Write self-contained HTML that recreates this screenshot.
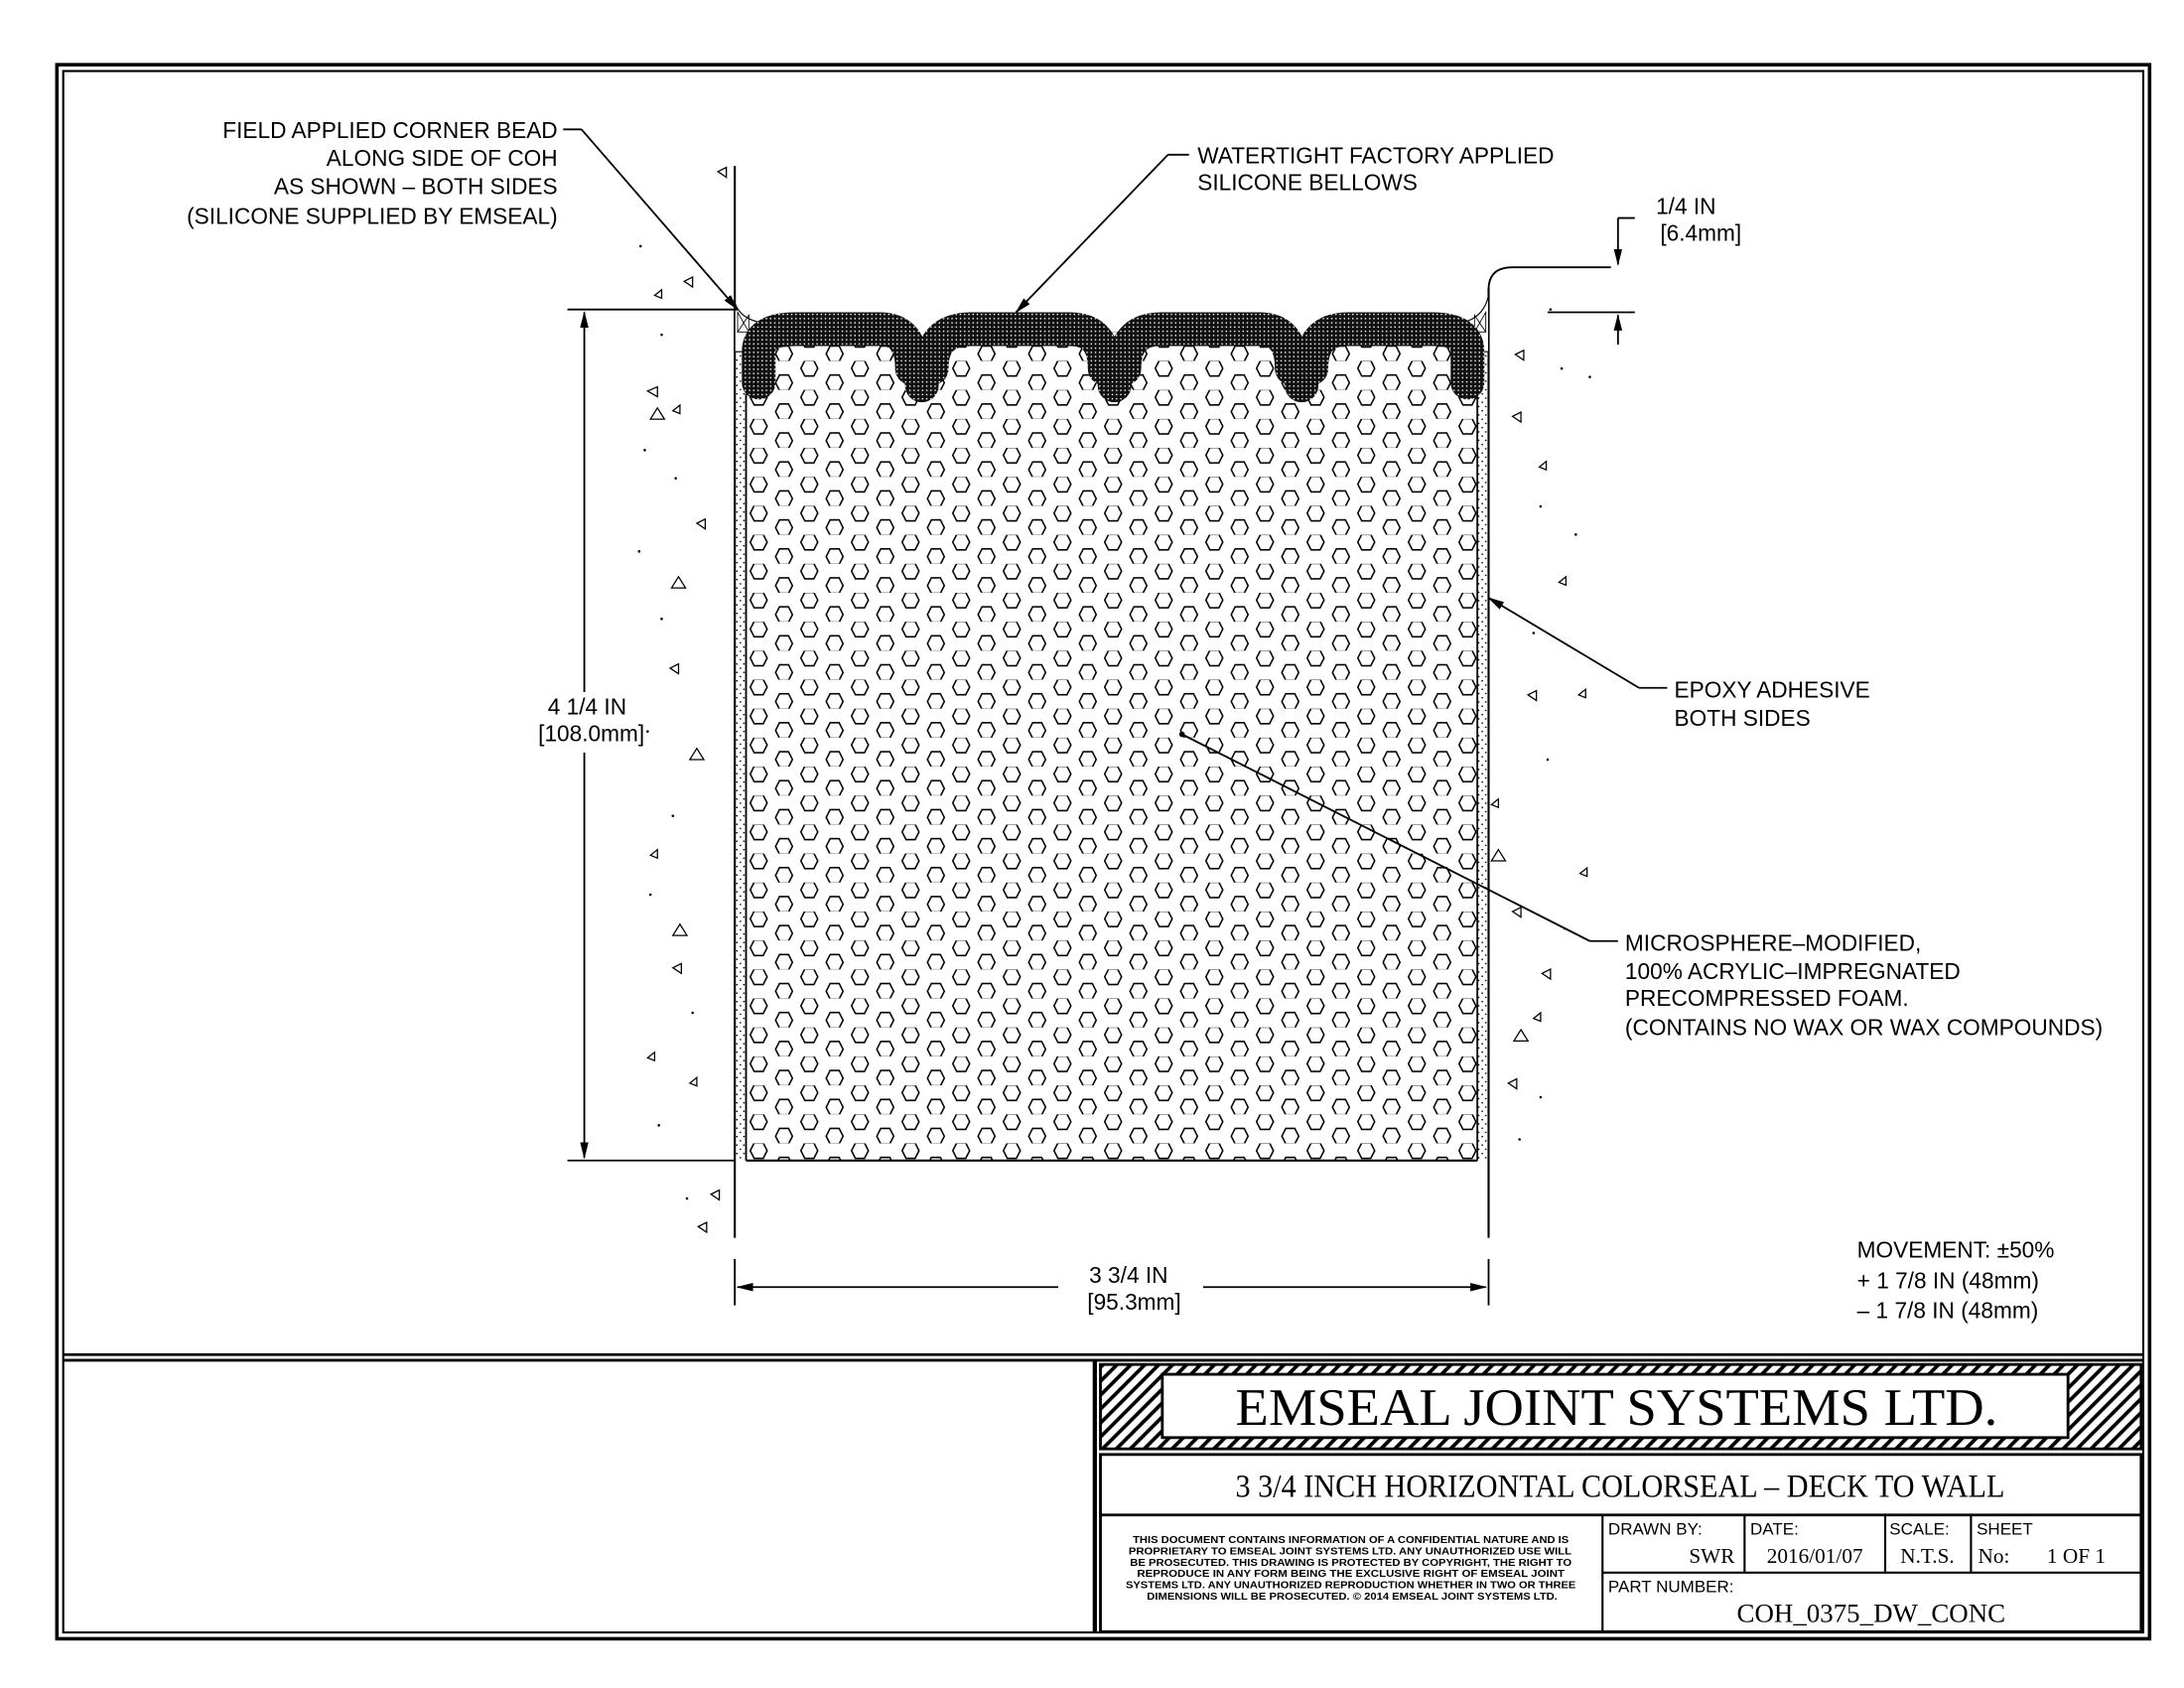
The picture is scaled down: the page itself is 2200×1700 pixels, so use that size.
<!DOCTYPE html>
<html><head><meta charset="utf-8"><style>html,body{margin:0;padding:0;background:#fff}svg{display:block}</style></head>
<body>
<svg width="2200" height="1700" viewBox="0 0 1552 1200" xmlns="http://www.w3.org/2000/svg" font-family="'Liberation Sans', sans-serif">
<defs>
<pattern id="hex" width="36" height="20.6" patternUnits="userSpaceOnUse" x="530" y="236">
<polygon points="5.8,-0.3 12.2,-0.3 15,5.2 12.2,10.7 5.8,10.7 3,5.2" fill="none" stroke="#000" stroke-width="1.1"/>
<polygon points="23.8,10 30.2,10 33,15.5 30.2,21 23.8,21 21,15.5" fill="none" stroke="#000" stroke-width="1.1"/>
</pattern>
<pattern id="dk" width="3" height="3" patternUnits="userSpaceOnUse">
<rect width="3" height="3" fill="#111"/><circle cx="1.5" cy="1.5" r="0.55" fill="#fff"/>
</pattern>
<pattern id="stip" width="5" height="6" patternUnits="userSpaceOnUse">
<circle cx="1" cy="1" r="0.6" fill="#000"/><circle cx="3.5" cy="4" r="0.6" fill="#000"/>
</pattern>
<pattern id="hatch" width="7" height="7" patternUnits="userSpaceOnUse" patternTransform="rotate(45)">
<rect width="7" height="7" fill="#fff"/><rect width="2.6" height="7" fill="#000"/>
</pattern>
<marker id="ar" markerWidth="12" markerHeight="8" refX="11" refY="4" orient="auto" markerUnits="userSpaceOnUse"><path d="M0,1 L12,4 L0,7 Z" fill="#000"/></marker>
</defs>
<rect width="1552" height="1200" fill="#fff"/>
<rect x="40" y="46" width="1488" height="1119" fill="none" stroke="#000" stroke-width="2.5"/>
<rect x="44.5" y="50.5" width="1479" height="1110" fill="none" stroke="#000" stroke-width="1.5"/>
<line x1="44" y1="963" x2="1524" y2="963" stroke="#000" stroke-width="2"/>
<line x1="44" y1="967" x2="1524" y2="967" stroke="#000" stroke-width="2"/>
<line x1="778" y1="967" x2="778" y2="1161" stroke="#000" stroke-width="3"/>

<rect x="530" y="236" width="520" height="589" fill="url(#hex)"/>
<rect x="522" y="240" width="8" height="585" fill="url(#stip)"/>
<rect x="1050" y="240" width="8" height="585" fill="url(#stip)"/>
<line x1="530" y1="280" x2="530" y2="825" stroke="#000" stroke-width="1.3"/>
<line x1="1050" y1="280" x2="1050" y2="825" stroke="#000" stroke-width="1.3"/>
<line x1="530" y1="825" x2="1050" y2="825" stroke="#000" stroke-width="1.5"/>
<line x1="522" y1="118" x2="522" y2="880" stroke="#000" stroke-width="1.5"/>
<line x1="1058" y1="205" x2="1058" y2="880" stroke="#000" stroke-width="1.5"/>
<path d="M1058,206 Q1058,190 1075,190 L1145,190" fill="none" stroke="#000" stroke-width="1.3"/>
<path d="M522,215 Q526,228 545,230 L545,250 L522,250 Z" fill="#fff" stroke="#000" stroke-width="0.8"/>
<path d="M524,222 l8,14 h-8 z M524,236 l8,-12 v12 z" fill="none" stroke="#000" stroke-width="0.6"/>
<path d="M1058,210 Q1054,228 1035,230 L1035,250 L1058,250 Z" fill="#fff" stroke="#000" stroke-width="0.8"/>
<path d="M1056,222 l-8,14 h8 z M1056,236 l-8,-12 v12 z" fill="none" stroke="#000" stroke-width="0.6"/>
<g stroke="url(#dk)" fill="none" stroke-width="24" stroke-linecap="round">
<path d="M539,272 L539,250 Q539,234 565,234 L625,234 Q648,234 648,262"/>
<path d="M662,262 Q662,234 690,234 L760,234 Q785,234 785,262"/>
<path d="M799,262 Q799,234 825,234 L895,234 Q918,234 918,262"/>
<path d="M932,262 Q932,234 958,234 L1018,234 Q1043,234 1043,250 L1043,272"/>
</g>
<g fill="url(#dk)">
<rect x="643" y="240" width="24" height="46" rx="12"/>
<rect x="780" y="240" width="24" height="46" rx="12"/>
<rect x="913" y="240" width="24" height="46" rx="12"/>
</g>

<g fill="none" stroke="#000" stroke-width="0.9">
<path d="M510,122 l6,-3 v7z M486,200 l6,-3 v7z M460,278 l7,-3 v7z M462,298 l5,-8 l5,8z M477,418 l5,-8 l5,8z M490,540 l5,-8 l5,8z M476,475 l6,-3 v7z M495,372 l6,-3 v7z M462,608 l5,-4 v6z M478,665 l5,-8 l5,8z M478,688 l6,-3 v7z M490,770 l5,-4 v6z M460,752 l5,-4 v6z M505,849 l6,-3 v7z M496,872 l6,-3 v7z M1075,296 l6,-3 v7z M1094,332 l5,-4 v6z M1108,414 l5,-4 v6z M1086,494 l6,-3 v7z M1122,494 l5,-4 v6z M1060,572 l5,-4 v6z M1060,612 l5,-8 l5,8z M1075,648 l6,-3 v7z M1096,692 l6,-3 v7z M1076,740 l5,-8 l5,8z M1090,724 l5,-4 v6z M1072,770 l6,-3 v7z M1123,621 l5,-4 v6z M1077,252 l6,-3 v7z M478,292 l5,-4 v6z M465,210 l5,-4 v6z"/>
</g>
<g fill="#000">
<circle cx="455" cy="175" r="0.9"/><circle cx="470" cy="238" r="0.9"/><circle cx="458" cy="320" r="0.9"/><circle cx="480" cy="340" r="0.9"/><circle cx="454" cy="392" r="0.9"/><circle cx="470" cy="440" r="0.9"/><circle cx="460" cy="520" r="0.9"/><circle cx="478" cy="580" r="0.9"/><circle cx="462" cy="636" r="0.9"/><circle cx="492" cy="720" r="0.9"/><circle cx="468" cy="800" r="0.9"/><circle cx="488" cy="852" r="0.9"/><circle cx="1102" cy="220" r="0.9"/><circle cx="1110" cy="262" r="0.9"/><circle cx="1130" cy="268" r="0.9"/><circle cx="1095" cy="360" r="0.9"/><circle cx="1120" cy="380" r="0.9"/><circle cx="1090" cy="450" r="0.9"/><circle cx="1100" cy="540" r="0.9"/><circle cx="1112" cy="660" r="0.9"/><circle cx="1095" cy="780" r="0.9"/><circle cx="1080" cy="810" r="0.9"/>
</g>

<g stroke="#000" stroke-width="1.3" fill="none">
<line x1="403" y1="220" x2="524" y2="220"/>
<line x1="403" y1="825" x2="522" y2="825"/>
<line x1="415" y1="492" x2="415" y2="222" marker-end="url(#ar)"/>
<line x1="415" y1="535" x2="415" y2="823" marker-end="url(#ar)"/>
<line x1="522" y1="895" x2="522" y2="928"/>
<line x1="1058" y1="895" x2="1058" y2="928"/>
<line x1="752" y1="915" x2="524" y2="915" marker-end="url(#ar)"/>
<line x1="855" y1="915" x2="1056" y2="915" marker-end="url(#ar)"/>
<line x1="1100" y1="222" x2="1162" y2="222"/>
<line x1="1150" y1="155" x2="1150" y2="188" marker-end="url(#ar)"/>
<line x1="1150" y1="245" x2="1150" y2="224" marker-end="url(#ar)"/>
<line x1="1150" y1="155" x2="1162" y2="155"/>
<polyline points="413,92 400,92"/>
<line x1="413" y1="92" x2="524" y2="220" marker-end="url(#ar)"/>
<polyline points="845,110 830,110"/>
<line x1="830" y1="110" x2="722" y2="222" marker-end="url(#ar)"/>
<polyline points="1185,489 1165,489"/>
<line x1="1165" y1="489" x2="1058" y2="425" marker-end="url(#ar)"/>
<polyline points="1150,669 1130,669"/>
<line x1="1130" y1="669" x2="840" y2="522"/>
</g>
<circle cx="840" cy="522" r="2" fill="#000"/>

<g font-size="16" fill="#000">
<g text-anchor="end">
<text x="396" y="98">FIELD APPLIED CORNER BEAD</text>
<text x="396" y="118">ALONG SIDE OF COH</text>
<text x="396" y="138">AS SHOWN – BOTH SIDES</text>
<text x="396" y="159">(SILICONE SUPPLIED BY EMSEAL)</text>
</g>
<text x="851" y="116">WATERTIGHT FACTORY APPLIED</text>
<text x="851" y="135">SILICONE BELLOWS</text>
<text x="1177" y="152">1/4 IN</text>
<text x="1180" y="171">[6.4mm]</text>
<text x="1190" y="496">EPOXY ADHESIVE</text>
<text x="1190" y="516">BOTH SIDES</text>
<text x="1155" y="676">MICROSPHERE–MODIFIED,</text>
<text x="1155" y="696">100% ACRYLIC–IMPREGNATED</text>
<text x="1155" y="715">PRECOMPRESSED FOAM.</text>
<text x="1155" y="736">(CONTAINS NO WAX OR WAX COMPOUNDS)</text>
<text x="417" y="508" text-anchor="middle">4 1/4 IN</text>
<text x="420" y="527" text-anchor="middle">[108.0mm]</text>
<text x="802" y="912" text-anchor="middle">3 3/4 IN</text>
<text x="806" y="931" text-anchor="middle">[95.3mm]</text>
<text x="1320" y="894">MOVEMENT: ±50%</text>
<text x="1320" y="916">+ 1 7/8 IN (48mm)</text>
<text x="1320" y="937">– 1 7/8 IN (48mm)</text>
</g>

<rect x="782" y="970" width="740" height="60" fill="url(#hatch)" stroke="#000" stroke-width="2"/>
<rect x="826" y="977" width="644" height="45" fill="#fff" stroke="#000" stroke-width="2"/>
<text x="878" y="1013" font-family="'Liberation Serif', serif" font-size="37" textLength="542" lengthAdjust="spacingAndGlyphs">EMSEAL JOINT SYSTEMS LTD.</text>
<rect x="782" y="1034" width="740" height="126" fill="none" stroke="#000" stroke-width="2"/>
<line x1="782" y1="1077" x2="1522" y2="1077" stroke="#000" stroke-width="2"/>
<text x="878" y="1064" font-family="'Liberation Serif', serif" font-size="23" textLength="547" lengthAdjust="spacingAndGlyphs">3 3/4 INCH HORIZONTAL COLORSEAL – DECK TO WALL</text>
<g stroke="#000" stroke-width="1.5">
<line x1="1139" y1="1077" x2="1139" y2="1160"/>
<line x1="1139" y1="1118" x2="1522" y2="1118"/>
<line x1="1240" y1="1077" x2="1240" y2="1118"/>
<line x1="1340" y1="1077" x2="1340" y2="1118"/>
<line x1="1401" y1="1077" x2="1401" y2="1118"/>
</g>
<g font-size="7.3" font-weight="bold">
<text x="805" y="1097" textLength="310" lengthAdjust="spacingAndGlyphs">THIS DOCUMENT CONTAINS INFORMATION OF A CONFIDENTIAL NATURE AND IS</text>
<text x="802" y="1105" textLength="315" lengthAdjust="spacingAndGlyphs">PROPRIETARY TO EMSEAL JOINT SYSTEMS LTD. ANY UNAUTHORIZED USE WILL</text>
<text x="803" y="1113" textLength="314" lengthAdjust="spacingAndGlyphs">BE PROSECUTED. THIS DRAWING IS PROTECTED BY COPYRIGHT, THE RIGHT TO</text>
<text x="808" y="1121" textLength="304" lengthAdjust="spacingAndGlyphs">REPRODUCE IN ANY FORM BEING THE EXCLUSIVE RIGHT OF EMSEAL JOINT</text>
<text x="800" y="1129" textLength="320" lengthAdjust="spacingAndGlyphs">SYSTEMS LTD. ANY UNAUTHORIZED REPRODUCTION WHETHER IN TWO OR THREE</text>
<text x="815" y="1137" textLength="292" lengthAdjust="spacingAndGlyphs">DIMENSIONS WILL BE PROSECUTED. © 2014 EMSEAL JOINT SYSTEMS LTD.</text>
</g>
<g font-size="12">
<text x="1143" y="1091">DRAWN BY:</text>
<text x="1244" y="1091">DATE:</text>
<text x="1343" y="1091">SCALE:</text>
<text x="1405" y="1091">SHEET</text>
<text x="1143" y="1132">PART NUMBER:</text>
</g>
<g font-family="'Liberation Serif', serif" font-size="15">
<text x="1233" y="1111" text-anchor="end">SWR</text>
<text x="1290" y="1111" text-anchor="middle">2016/01/07</text>
<text x="1370" y="1111" text-anchor="middle">N.T.S.</text>
<text x="1406" y="1111">No:</text>
<text x="1455" y="1111">1 OF 1</text>
<text x="1330" y="1153" text-anchor="middle" font-size="19">COH_0375_DW_CONC</text>
</g>
</svg>
</body></html>
